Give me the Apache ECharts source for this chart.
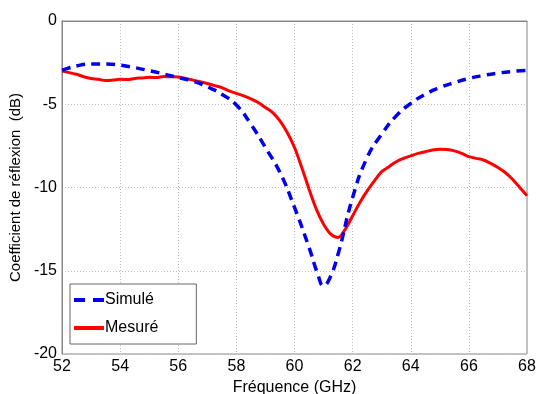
<!DOCTYPE html>
<html><head><meta charset="utf-8">
<script src="https://cdn.jsdelivr.net/npm/echarts@6/dist/echarts.min.js"></script>
<style>html,body{margin:0;padding:0;background:#fff}#c{width:537px;height:394px}</style>
</head><body><div id="c"></div>
<script>
const simFreq = [52,52.5,53,53.5,54,54.5,55,55.5,56,56.5,57,57.5,58,58.5,59,59.5,60,60.5,60.8,61,61.2,61.5,62,62.5,63,63.5,64,64.5,65,65.5,66,66.5,67,67.5,68];
const simVals = [-2.96,-2.7,-2.58,-2.58,-2.65,-2.8,-2.98,-3.18,-3.4,-3.6,-3.95,-4.4,-5.05,-6.2,-7.6,-9.1,-11.2,-13.6,-15.2,-15.9,-15.5,-14.0,-10.6,-8.2,-6.8,-5.7,-4.95,-4.4,-4.0,-3.7,-3.45,-3.27,-3.13,-3.03,-2.96];
const mesFreq = [52,52.25,52.5,52.75,53,53.25,53.5,53.75,54,54.25,54.5,54.75,55,55.25,55.5,55.75,56,56.25,56.5,56.75,57,57.25,57.5,57.75,58,58.25,58.5,58.75,59,59.25,59.5,59.75,60,60.25,60.5,60.75,61,61.25,61.5,61.75,62,62.25,62.5,62.75,63,63.25,63.5,63.75,64,64.25,64.5,64.75,65,65.25,65.5,65.75,66,66.25,66.5,66.75,67,67.25,67.5,67.75,68];
const mesVals = [-3.0,-3.1,-3.2,-3.35,-3.45,-3.5,-3.58,-3.55,-3.5,-3.52,-3.45,-3.42,-3.38,-3.4,-3.33,-3.35,-3.37,-3.45,-3.55,-3.65,-3.75,-3.88,-4.0,-4.2,-4.35,-4.5,-4.68,-4.9,-5.2,-5.5,-6.0,-6.7,-7.6,-8.8,-10.1,-11.3,-12.2,-12.8,-13.0,-12.5,-11.7,-10.9,-10.2,-9.6,-9.05,-8.75,-8.45,-8.25,-8.1,-7.95,-7.85,-7.75,-7.7,-7.72,-7.8,-7.95,-8.15,-8.25,-8.35,-8.55,-8.8,-9.1,-9.5,-10.0,-10.5];
const seriesNames = ['Simulé','Mesuré'];
const xName = 'Fréquence (GHz)';
const yName = 'Coefficient de réflexion  (dB)';

const font = 'Liberation Sans, Arial, sans-serif';
const chart = echarts.init(document.getElementById('c'));
chart.setOption({
  animation: false,
  backgroundColor: '#fff',
  grid: {left: 62, top: 21, width: 465, height: 333, show: true, borderColor: '#888', borderWidth: 1,
         containLabel: false, outerBoundsMode: 'none'},
  legend: {
    left: 70, top: 284, orient: 'vertical', backgroundColor: '#fff',
    borderColor: '#666', borderWidth: 1, padding: [8, 38, 8, 4], itemGap: 12,
    itemWidth: 30, itemHeight: 4,
    textStyle: {fontFamily: font, fontSize: 16, color: '#000', padding: [0,0,0,-4]},
    data: [
      {name: seriesNames[0], icon: 'path://M0,0h11v4h-11z M19,0h11v4h-11z'},
      {name: seriesNames[1], icon: 'path://M0,0h30v4h-30z'}
    ]
  },
  xAxis: {
    type: 'value', min: 52, max: 68, interval: 2,
    name: xName, nameLocation: 'middle', nameGap: 22,
    nameTextStyle: {fontFamily: font, fontSize: 16, color: '#000'},
    axisLine: {show: true, lineStyle: {color: '#888'}},
    axisTick: {show: false},
    axisLabel: {fontFamily: font, fontSize: 16, color: '#000', margin: 5},
    splitLine: {show: true, lineStyle: {color: '#bbb', type: [1, 2]}}
  },
  yAxis: {
    type: 'value', min: -20, max: 0, interval: 5,
    name: yName, nameLocation: 'middle', nameGap: 35,
    nameTextStyle: {fontFamily: font, fontSize: 15, color: '#000'},
    axisLine: {show: true, lineStyle: {color: '#888'}},
    axisTick: {show: false},
    axisLabel: {fontFamily: font, fontSize: 16, color: '#000', margin: 5},
    splitLine: {show: true, lineStyle: {color: '#bbb', type: [1, 2]}}
  },
  series: [
    {name: seriesNames[0], type: 'line', smooth: true, symbol: 'none',
     data: simFreq.map((f, i) => [f, simVals[i]]),
     lineStyle: {color: '#0000ee', width: 3.5, type: [9, 6]}, itemStyle: {color: '#0000ee'}, z: 3},
    {name: seriesNames[1], type: 'line', smooth: 0.3, symbol: 'none',
     data: mesFreq.map((f, i) => [f, mesVals[i]]),
     lineStyle: {color: '#ff0000', width: 3}, itemStyle: {color: '#ff0000'}, z: 2}
  ]
});
</script></body></html>
